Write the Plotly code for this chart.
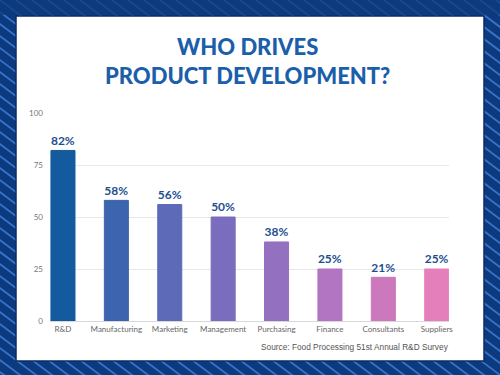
import plotly.graph_objects as go

categories = ["R&D", "Manufacturing", "Marketing", "Management", "Purchasing",
              "Finance", "Consultants", "Suppliers"]
values = [82, 58, 56, 50, 38, 25, 21, 25]
labels = ["82%", "58%", "56%", "50%", "38%", "25%", "21%", "25%"]
y_ticks = [0, 25, 50, 75, 100]
title_lines = ["WHO DRIVES", "PRODUCT DEVELOPMENT?"]
source_text = "Source: Food Processing 51st Annual R&D Survey"

bar_colors = ["#135b9e", "#3d64ae", "#5c6ab8", "#7b6dbd",
              "#9470c0", "#b275c1", "#cb79bc", "#e47fbc"]

W, H = 500, 375
ML, MR, MT, MB = 50, 51, 113, 54
PW, PH = W - ML - MR, H - MT - MB


def px(x):
    return (x - ML) / PW


def py(y):
    return (H - MB - y) / PH


fig = go.Figure(go.Bar(
    x=list(range(len(categories))), y=values,
    text=labels, textposition="outside",
    textfont=dict(family="Lato", size=13, color="#1d4f90", weight="bold"),
    marker=dict(color=bar_colors, line=dict(color=bar_colors, width=1)),
    cliponaxis=False, width=0.45,
))

shapes = []
# diagonal stripes on background
step = 16
for i in range(-50, 40):
    x0 = i * step
    shapes.append(dict(type="line", xref="paper", yref="paper",
                       x0=px(x0), y0=py(0), x1=px(x0 + 600), y1=py(450),
                       line=dict(color="rgba(70,135,225,0.75)", width=1.8),
                       layer="below"))
# darker top band (stripes faint there)
shapes.append(dict(type="rect", xref="paper", yref="paper",
                   x0=px(0), x1=px(500), y0=py(0), y1=py(15),
                   fillcolor="rgba(13,58,126,0.75)", line=dict(width=0),
                   layer="below"))
# white card
shapes.append(dict(type="rect", xref="paper", yref="paper",
                   x0=px(16), x1=px(484), y0=py(16), y1=py(361),
                   fillcolor="white", line=dict(color="#0a2d66", width=1.5),
                   layer="below"))

annotations = [
    dict(text=title_lines[0] + "<br>" + title_lines[1], xref="paper", yref="paper",
         x=px(247), y=py(61), showarrow=False, xanchor="center", yanchor="middle",
         align="center",
         font=dict(family="Lato", size=22, color="#1b5ea9", weight=900)),
    dict(text=source_text, xref="paper", yref="paper", x=px(451), y=py(347),
         showarrow=False, xanchor="right", yanchor="middle",
         font=dict(family="Liberation Sans", size=8.3, color="#555555")),
]

fig.update_layout(
    width=W, height=H,
    margin=dict(l=ML, r=MR, t=MT, b=MB, pad=0),
    paper_bgcolor="#0d3a7e", plot_bgcolor="rgba(0,0,0,0)",
    shapes=shapes, annotations=annotations, showlegend=False,
    bargap=0.55,
)
fig.update_xaxes(
    range=[-0.243, 7.23], tickvals=list(range(len(categories))),
    ticktext=categories, showgrid=False, zeroline=False,
    showline=False, ticks="", ticklabelstandoff=2,
    tickfont=dict(family="Lato", size=8, color="#666666"),
)
fig.update_yaxes(
    range=[0, 100], tickvals=y_ticks, showgrid=True, gridcolor="#e8e8e8",
    gridwidth=1, zeroline=True, zerolinecolor="#d8d8d8", zerolinewidth=1,
    ticks="", ticklabelstandoff=6,
    tickfont=dict(family="Lato", size=8, color="#777777"),
)

fig.write_html("out.html", config={"displayModeBar": False},
               post_script="document.body.style.margin='0px';")
